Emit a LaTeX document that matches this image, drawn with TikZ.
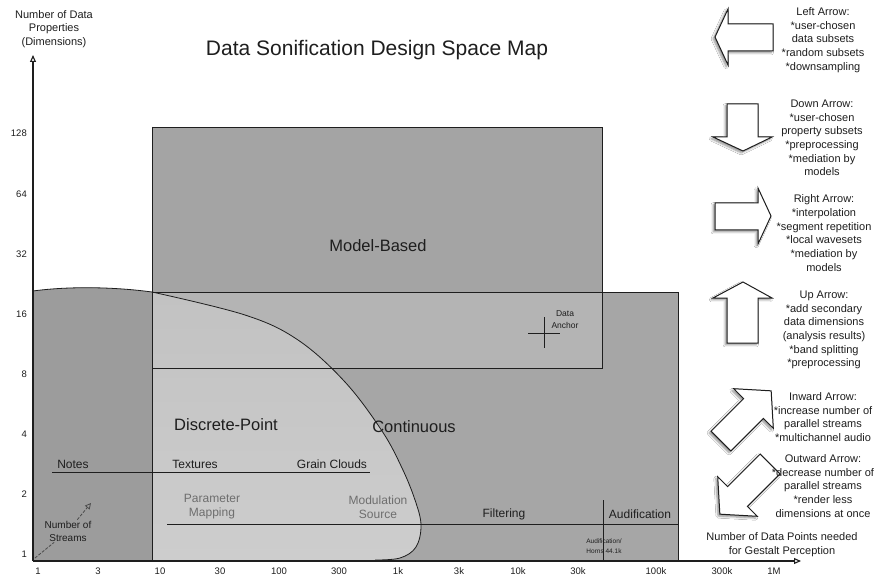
\documentclass[tikz,border=0pt]{standalone}
\usepackage{fontspec}
\setmainfont{Liberation Sans}
\usetikzlibrary{arrows.meta,shadows.blur}
\definecolor{leftc}{HTML}{9C9C9C}
\definecolor{contc}{HTML}{A6A6A6}
\definecolor{overc}{HTML}{B4B4B4}
\definecolor{modelc}{HTML}{A4A4A4}
\definecolor{disctop}{HTML}{C2C2C2}
\definecolor{discbot}{HTML}{CDCDCD}
\definecolor{inkc}{HTML}{1E1E1E}
\definecolor{softc}{HTML}{6E6E6E}
\begin{document}
\begin{tikzpicture}[x=1pt,y=-1pt,
  edge/.style={draw=inkc,line width=0.8pt},
  axisline/.style={draw=inkc,line width=1.1pt,-{Triangle[open,length=7pt,width=6pt]}},
  bluntarrow/.style={draw=inkc,fill=white,line width=1pt,line join=miter,
     blur shadow={shadow xshift=-1.8pt,shadow yshift=-1.8pt,shadow blur steps=6,shadow opacity=45}},
  ticklab/.style={font=\fontsize{9.5}{11}\selectfont,text=inkc,inner sep=1pt},
  sidetxt/.style={font=\fontsize{11}{13.7}\selectfont,text=inkc,align=center,inner sep=0pt},
  regionlab/.style={font=\fontsize{16.5}{19}\selectfont,text=inkc,inner sep=0pt},
  methodlab/.style={font=\fontsize{12}{14}\selectfont,text=inkc,inner sep=0pt},
  softlab/.style={font=\fontsize{12}{14}\selectfont,text=softc,align=center,inner sep=0pt},
  tinylab/.style={font=\fontsize{8.5}{12}\selectfont,text=inkc,align=center,inner sep=0pt},
]
\useasboundingbox (0,0) rectangle (880,577);
\fill[white] (0,0) rectangle (880,577);

% ---- regions ----
\fill[contc] (152,292) rectangle (678,560);
\fill[overc] (152,292) rectangle (602,368);
\fill[modelc] (152,127) rectangle (602,292);
\fill[leftc] (33,560) -- (33,291) .. controls (70,286) and (115,287) .. (152,292) -- (152,560) -- cycle;
\shade[top color=disctop,bottom color=discbot] plot[smooth,tension=0.6] coordinates {(152,292) (245,315) (298,340) (345,382) (382,431) (402,468) (415,500) (421,525) (416,547) (400,558) (375,560)} -- (152,560) -- cycle;

% ---- outlines ----
\draw[edge] (152,127) rectangle (602,368);
\draw[edge] (152,292) -- (678,292) -- (678,560);
\draw[edge] (152,127) -- (152,560);
\draw[edge] (33,291) .. controls (70,286) and (115,287) .. (152,292);
\draw[edge] plot[smooth,tension=0.6] coordinates {(152,292) (245,315) (298,340) (345,382) (382,431) (402,468) (415,500) (421,525) (416,547) (400,558) (375,560)};
\draw[edge] (52,472) -- (370,472);
\draw[edge] (167,524) -- (678,524);
\draw[edge] (603,500) -- (603,560);
% data anchor cross
\draw[edge] (544,317) -- (544,348);
\draw[edge] (528,333) -- (560,333);

% ---- axes ----
\coordinate (O) at (33,561);
\coordinate (ytop) at (33,55);
\coordinate (xend) at (801,561);
\draw[axisline] (O) -- (ytop);
\draw[axisline] (O) -- (xend);

% ---- title and axis labels ----
\node[font=\fontsize{21}{24}\selectfont,text=inkc] (title) at (377,50) {Data Sonification Design Space Map};
\node[font=\fontsize{11}{13.5}\selectfont,text=inkc,align=center] (ylabel) at (54,29) {Number of Data\\Properties\\(Dimensions)};
\node[sidetxt] (xlabel) at (782,545) {Number of Data Points needed\\for Gestalt Perception};

\foreach \v/\y in {128/133,64/194,32/254,16/314,8/374,4/434,2/494,1/554}
  \node[ticklab,anchor=east] (yt\v) at (28,\y) {\v};
\foreach \v/\x in {1/38,3/98,10/160,30/220,100/279,300/339,1k/398,3k/459,10k/518,30k/578,100k/656,300k/722,1M/774}
  \node[ticklab] (xt\v) at (\x,571) {\v};

% ---- region labels ----
\node[regionlab] (model) at (378,246) {Model-Based};
\node[regionlab] (discrete) at (226,425) {Discrete-Point};
\node[regionlab] (cont) at (414,427) {Continuous};

\node[methodlab] (notes) at (73,464) {Notes};
\node[methodlab] (textures) at (195,464) {Textures};
\node[methodlab] (grain) at (332,464) {Grain Clouds};
\node[softlab] (param) at (212,507) {Parameter\\Mapping};
\node[softlab] (modul) at (378,507) {Modulation\\Source};
\node[methodlab] (filt) at (504,514) {Filtering};
\node[methodlab] (audif) at (640,514) {Audification};
\node[font=\fontsize{6.5}{10}\selectfont,text=inkc,align=center,inner sep=0pt] (horns) at (604,546) {Audification/\\Horns 44.1k};
\node[tinylab] (anchor) at (565,320) {Data\\Anchor};

% number of streams
\node[font=\fontsize{10}{13}\selectfont,text=inkc,align=center,inner sep=1pt] (streams) at (68,531) {Number of\\Streams};
\coordinate (corner) at (35,558);
\coordinate (streamtip) at (91,503);
\draw[draw=inkc!80,line width=0.8pt,dash pattern=on 3pt off 1.5pt] (corner) -- (streams);
\draw[draw=inkc!80,line width=0.8pt,dash pattern=on 3pt off 1.5pt,-{Triangle[open,length=6pt,width=6pt]}] (streams) -- (streamtip);

% ---- block arrows ----
\draw[bluntarrow] (715,37) -- (728,9) -- (728,24) -- (773,24) -- (773,51) -- (728,51) -- (728,65) -- cycle;
\draw[bluntarrow] (727,104) -- (758,104) -- (758,137) -- (772,137) -- (743,151) -- (713,137) -- (727,137) -- cycle;
\draw[bluntarrow] (715,203) -- (758,203) -- (758,188) -- (771,216) -- (758,244) -- (758,230) -- (715,230) -- cycle;
\draw[bluntarrow] (743,282) -- (772,298) -- (758,298) -- (758,343) -- (727,343) -- (727,298) -- (713,298) -- cycle;
\begin{scope}[shift={(745,417)},rotate=45]
  \draw[bluntarrow] (37,0) -- (12,28) -- (12,14) -- (-34,14) -- (-34,-14) -- (12,-14) -- (12,-28) -- cycle;
\end{scope}
\begin{scope}[shift={(746,488)},rotate=225]
  \draw[bluntarrow] (37,0) -- (12,28) -- (12,14) -- (-34,14) -- (-34,-14) -- (12,-14) -- (12,-28) -- cycle;
\end{scope}

% ---- side texts ----
\node[sidetxt] (lefttxt) at (823,40) {Left Arrow:\\*user-chosen\\data subsets\\*random subsets\\*downsampling};
\node[sidetxt] (downtxt) at (822,138) {Down Arrow:\\*user-chosen\\property subsets\\*preprocessing\\*mediation by\\models};
\node[sidetxt] (righttxt) at (824,233) {Right Arrow:\\*interpolation\\*segment repetition\\*local wavesets\\*mediation by\\models};
\node[sidetxt] (uptxt) at (824,330) {Up Arrow:\\*add secondary\\data dimensions\\(analysis results)\\*band splitting\\*preprocessing};
\node[sidetxt] (intxt) at (823,417) {Inward Arrow:\\*increase number of\\parallel streams\\*multichannel audio};
\node[sidetxt] (outtxt) at (823,486) {Outward Arrow:\\*decrease number of\\parallel streams\\*render less\\dimensions at once};
\end{tikzpicture}
\end{document}
